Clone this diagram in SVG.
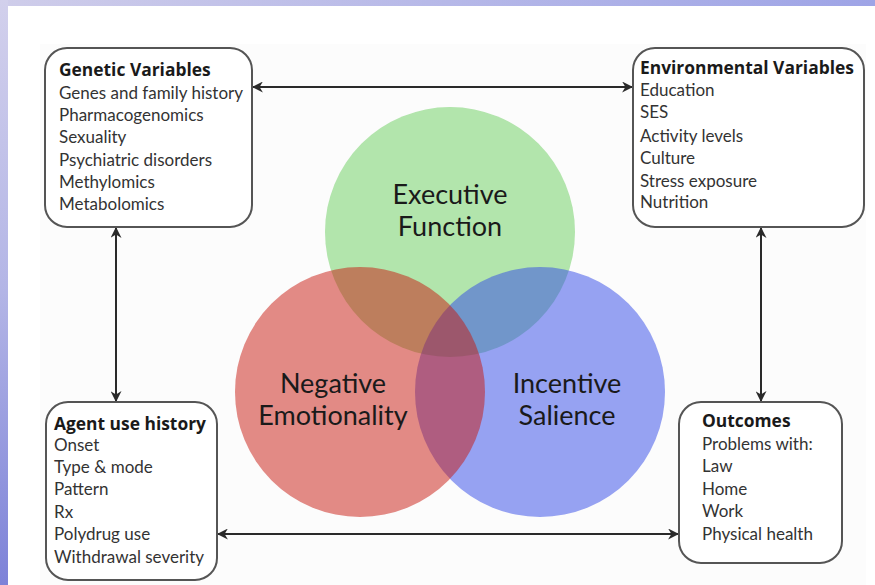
<svg xmlns="http://www.w3.org/2000/svg" width="875" height="585" viewBox="0 0 875 585">
  <defs>
    <linearGradient id="bandTop" x1="0" y1="0" x2="1" y2="0">
      <stop offset="0" stop-color="#cfcdea"/>
      <stop offset="1" stop-color="#9ea4e6"/>
    </linearGradient>
    <linearGradient id="bandLeft" x1="0" y1="0" x2="0" y2="1">
      <stop offset="0" stop-color="#d2d0ec"/>
      <stop offset="0.5" stop-color="#b3b5e6"/>
      <stop offset="1" stop-color="#7d82d8"/>
    </linearGradient>
    <marker id="head" viewBox="0 0 10 10" refX="9" refY="5" markerWidth="5.5" markerHeight="5.5" orient="auto-start-reverse" markerUnits="strokeWidth">
      <path d="M0,0 L10,5 L0,10 L3,5 Z" fill="#2a2a2a"/>
    </marker>
    <style>
      .box { fill: #ffffff; stroke: #555555; stroke-width: 2; }
      .title { font-family: "Open Sans", "Liberation Sans", sans-serif; font-weight: bold; font-size: 17.4px; fill: #1a1a1a; }
      .item { font-family: Lato, "Liberation Sans", sans-serif; font-size: 17px; fill: #333333; }
      .big { font-family: Lato, "Liberation Sans", sans-serif; font-size: 27px; fill: #1a1a1a; text-anchor: middle; }
      .conn { stroke: #2a2a2a; stroke-width: 2; fill: none; marker-start: url(#head); marker-end: url(#head); }
    </style>
  </defs>

  <!-- page background with slide bands -->
  <rect x="0" y="0" width="875" height="585" fill="#ffffff"/>
  <rect x="0" y="0" width="875" height="6" fill="url(#bandTop)"/>
  <rect x="0" y="0" width="8" height="585" fill="url(#bandLeft)"/>
  <rect x="40" y="44" width="826" height="541" fill="#fcfcfc"/>

  <!-- Venn circles: green, blue, red -->
  <g id="venn">
    <circle id="executive-function" cx="450" cy="232" r="125" fill="#67cd5b" fill-opacity="0.5"/>
    <circle id="incentive-salience" cx="540" cy="392" r="125" fill="#2f47e7" fill-opacity="0.5"/>
    <circle id="negative-emotionality" cx="360" cy="392" r="125" fill="#c7170d" fill-opacity="0.5"/>
    <text class="big" x="450" y="204">Executive</text>
    <text class="big" x="450" y="236">Function</text>
    <text class="big" x="333" y="393">Negative</text>
    <text class="big" x="333" y="425">Emotionality</text>
    <text class="big" x="567" y="393">Incentive</text>
    <text class="big" x="567" y="425">Salience</text>
  </g>

  <!-- connectors -->
  <g id="connectors">
    <line class="conn" x1="253" y1="87" x2="632" y2="87"/>
    <line class="conn" x1="116" y1="228" x2="116" y2="401"/>
    <line class="conn" x1="761" y1="228" x2="761" y2="401"/>
    <line class="conn" x1="218" y1="534" x2="678" y2="534"/>
  </g>

  <g id="genetic-variables">
    <rect class="box" x="45" y="48" width="207" height="179" rx="22"/>
    <text class="title" x="59" y="76">Genetic Variables</text>
    <text class="item" x="59" y="99">Genes and family history</text>
    <text class="item" x="59" y="121">Pharmacogenomics</text>
    <text class="item" x="59" y="143">Sexuality</text>
    <text class="item" x="59" y="166">Psychiatric disorders</text>
    <text class="item" x="59" y="188">Methylomics</text>
    <text class="item" x="59" y="210">Metabolomics</text>
  </g>

  <g id="environmental-variables">
    <rect class="box" x="633" y="48" width="231" height="179" rx="22"/>
    <text class="title" x="640" y="74">Environmental Variables</text>
    <text class="item" x="640" y="96">Education</text>
    <text class="item" x="640" y="118">SES</text>
    <text class="item" x="640" y="142">Activity levels</text>
    <text class="item" x="640" y="164">Culture</text>
    <text class="item" x="640" y="187">Stress exposure</text>
    <text class="item" x="640" y="208">Nutrition</text>
  </g>

  <g id="agent-use-history">
    <rect class="box" x="46" y="402" width="171" height="178" rx="22"/>
    <text class="title" x="54" y="430">Agent use history</text>
    <text class="item" x="54" y="451">Onset</text>
    <text class="item" x="54" y="473">Type &amp; mode</text>
    <text class="item" x="54" y="495">Pattern</text>
    <text class="item" x="54" y="518">Rx</text>
    <text class="item" x="54" y="540">Polydrug use</text>
    <text class="item" x="54" y="563">Withdrawal severity</text>
  </g>

  <g id="outcomes">
    <rect class="box" x="679" y="402" width="163" height="161" rx="22"/>
    <text class="title" x="702" y="427">Outcomes</text>
    <text class="item" x="702" y="450">Problems with:</text>
    <text class="item" x="702" y="472">Law</text>
    <text class="item" x="702" y="495">Home</text>
    <text class="item" x="702" y="517">Work</text>
    <text class="item" x="702" y="540">Physical health</text>
  </g>
</svg>
